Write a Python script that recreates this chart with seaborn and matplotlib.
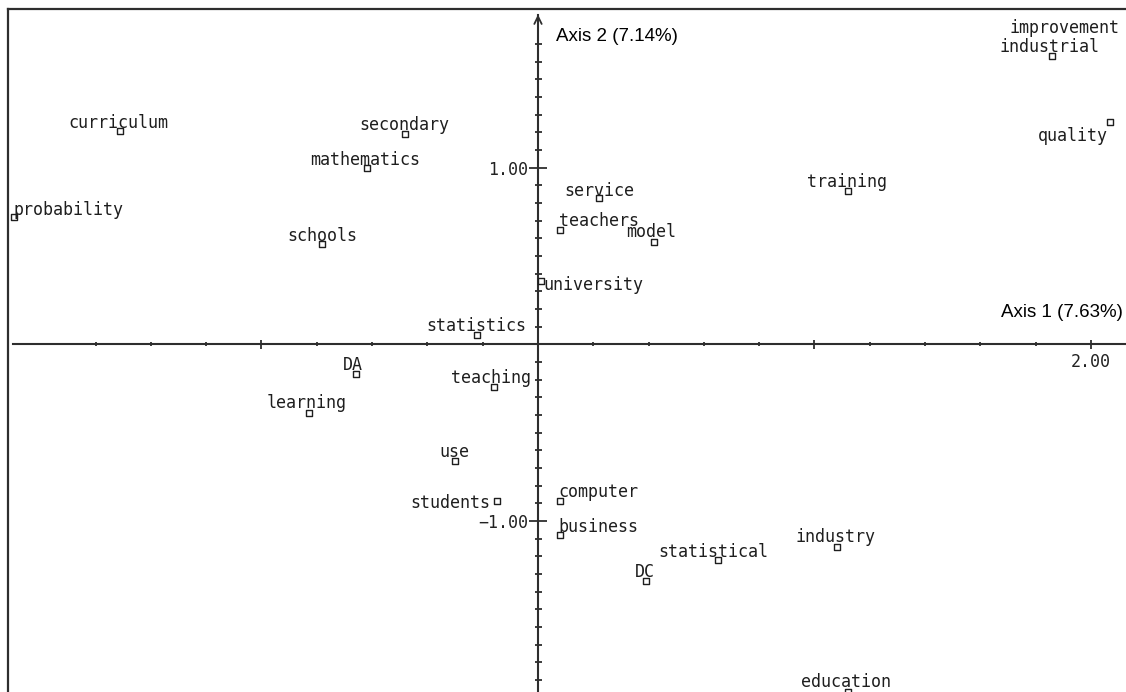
import matplotlib
matplotlib.use("Agg")
import matplotlib.pyplot as plt
from matplotlib.lines import Line2D
from matplotlib.ticker import FixedLocator, FuncFormatter
import numpy as np
import pandas as pd
import seaborn as sns

# Word coordinates on the first two factorial axes
words = ["curriculum", "probability", "mathematics", "schools", "secondary",
         "service", "teachers", "model", "improvement", "industrial", "quality",
         "training", "university", "statistics", "teaching", "DA", "learning",
         "use", "students", "computer", "business", "statistical", "DC",
         "industry", "education"]
axis1 = [-1.51, -1.895, -0.62, -0.78, -0.48,
         0.22, 0.08, 0.42, 2.145, 1.86, 2.07,
         1.12, 0.01, -0.22, -0.16, -0.66, -0.83,
         -0.30, -0.15, 0.08, 0.08, 0.65, 0.39,
         1.08, 1.12]
axis2 = [1.21, 0.72, 1.00, 0.57, 1.19,
         0.83, 0.65, 0.58, 1.87, 1.63, 1.26,
         0.87, 0.36, 0.05, -0.24, -0.17, -0.39,
         -0.66, -0.89, -0.89, -1.08, -1.22, -1.34,
         -1.15, -1.97]
axis1_title = "Axis 1 (7.63%)"
axis2_title = "Axis 2 (7.14%)"
x_tick_values = [2.0]
y_tick_values = [-1.0, 1.0]

df = pd.DataFrame({"word": words, "axis1": axis1, "axis2": axis2})

sns.set_theme(style="white")
plt.rcParams["font.family"] = ["DejaVu Sans Mono"]

W, H = 1126, 692
fig = plt.figure(figsize=(W / 100, H / 100), dpi=100)
fig.patch.set_facecolor("white")

# axes box: left border at 8 px, top border at 9 px
left_px, top_px = 8, 9
ax = fig.add_axes([left_px / W, 0, 1 - left_px / W, 1 - top_px / H])
ax.set_facecolor("white")

xlim = (-1.9168, 2.1266)
ylim = (-1.9689, 1.8986)
ax.set_xlim(*xlim)
ax.set_ylim(*ylim)

ink = "#2e2e2e"

sns.scatterplot(data=df, x="axis1", y="axis2", marker="s", s=14,
                color="white", edgecolor="#1e1e1e", linewidth=1.0,
                legend=False, ax=ax, zorder=4)
ax.set_xlabel("")
ax.set_ylabel("")

# Axes crossing at the origin
for side in ("top", "right"):
    ax.spines[side].set_visible(False)
ax.spines["left"].set_position(("data", 0))
ax.spines["bottom"].set_position(("data", 0))
ax.spines["left"].set_bounds(ylim[0], 1.865)
ax.spines["bottom"].set_bounds(-1.899, xlim[1])
for side in ("left", "bottom"):
    ax.spines[side].set_color(ink)
    ax.spines[side].set_linewidth(1.5)

ax.annotate("", xy=(0, 1.868), xytext=(0, 1.80),
            arrowprops=dict(arrowstyle="->,head_length=0.45,head_width=0.22",
                            color=ink, lw=1.3, shrinkA=0, shrinkB=0))

# Ticks
ax.xaxis.set_major_locator(FixedLocator([-1.0, 0.0, 1.0, 2.0]))
ax.xaxis.set_minor_locator(FixedLocator(np.round(np.arange(-1.6, 2.15, 0.2), 2)))
ax.xaxis.set_major_formatter(FuncFormatter(
    lambda v, p: f"{v:.2f}" if any(abs(v - t) < 1e-9 for t in x_tick_values) else ""))
ax.yaxis.set_major_locator(FixedLocator([-1.0, 1.0]))
ax.yaxis.set_minor_locator(FixedLocator(np.round(np.arange(-1.9, 1.75, 0.1), 2)))
ax.yaxis.set_major_formatter(FuncFormatter(
    lambda v, p: f"{v:.2f}".replace("-", "\u2212")
    if any(abs(v - t) < 1e-9 for t in y_tick_values) else ""))

ax.tick_params(which="both", bottom=True, left=True, top=False, right=False)
px = 0.72
ax.xaxis.set_tick_params(which="major", direction="inout", length=9 * px,
                         width=1.3, color=ink, pad=3, labelsize=12, labelcolor="#222")
ax.xaxis.set_tick_params(which="minor", direction="inout", length=5 * px,
                         width=1.3, color=ink)
ax.yaxis.set_tick_params(which="major", direction="inout", length=18 * px,
                         width=1.3, color=ink, pad=0.5, labelsize=12, labelcolor="#222")
ax.yaxis.set_tick_params(which="minor", direction="inout", length=7 * px,
                         width=1.3, color=ink)

# Word labels: (alignment, dx px, dy px) relative to the point
placement = {
    "probability": ("left", -1, 7),
    "teachers": ("left", -1, 9),
    "improvement": ("right", -12, -14),
    "quality": ("right", -2, -14),
    "university": ("left", 3, -4),
    "students": ("right", -6, -2),
    "computer": ("left", -2, 9),
    "business": ("left", -2, 8),
    "curriculum": ("center", -2, 8),
    "mathematics": ("center", -1, 8),
    "schools": ("center", 0, 8),
    "service": ("center", 0, 7),
    "model": ("center", -3, 10),
    "industrial": ("center", -3, 9),
    "teaching": ("center", -3, 9),
    "DA": ("center", -3, 9),
    "learning": ("center", -2, 10),
    "statistical": ("center", -4, 8),
    "industry": ("center", -1, 10),
    "education": ("center", -2, 10),
}
for w, x, y in zip(words, axis1, axis2):
    ha, dx, dy = placement.get(w, ("center", -1, 9))
    ax.annotate(w, xy=(x, y), xytext=(dx, dy), textcoords="offset pixels",
                ha=ha, va="center", fontsize=12, color="#1e1e1e",
                family="DejaVu Sans Mono", annotation_clip=False, zorder=5)

# Axis titles
ax.annotate(axis2_title, xy=(0, 1.865), xytext=(18, -22), textcoords="offset pixels",
            ha="left", va="center", fontsize=13.5, family="Liberation Sans",
            color="black", annotation_clip=False)
ax.annotate(axis1_title, xy=(xlim[1], 0), xytext=(-3, 32), textcoords="offset pixels",
            ha="right", va="center", fontsize=13.5, family="Liberation Sans",
            color="black", annotation_clip=False)

# Outer frame (left and top edges)
fx = left_px / W
fy = 1 - top_px / H
fig.add_artist(Line2D([fx, fx], [0, fy], transform=fig.transFigure,
                      color=ink, lw=1.6, solid_capstyle="projecting"))
fig.add_artist(Line2D([fx, 1.0], [fy, fy], transform=fig.transFigure,
                      color=ink, lw=1.6, solid_capstyle="projecting"))

fig.savefig("out.png", dpi=100, facecolor="white")
